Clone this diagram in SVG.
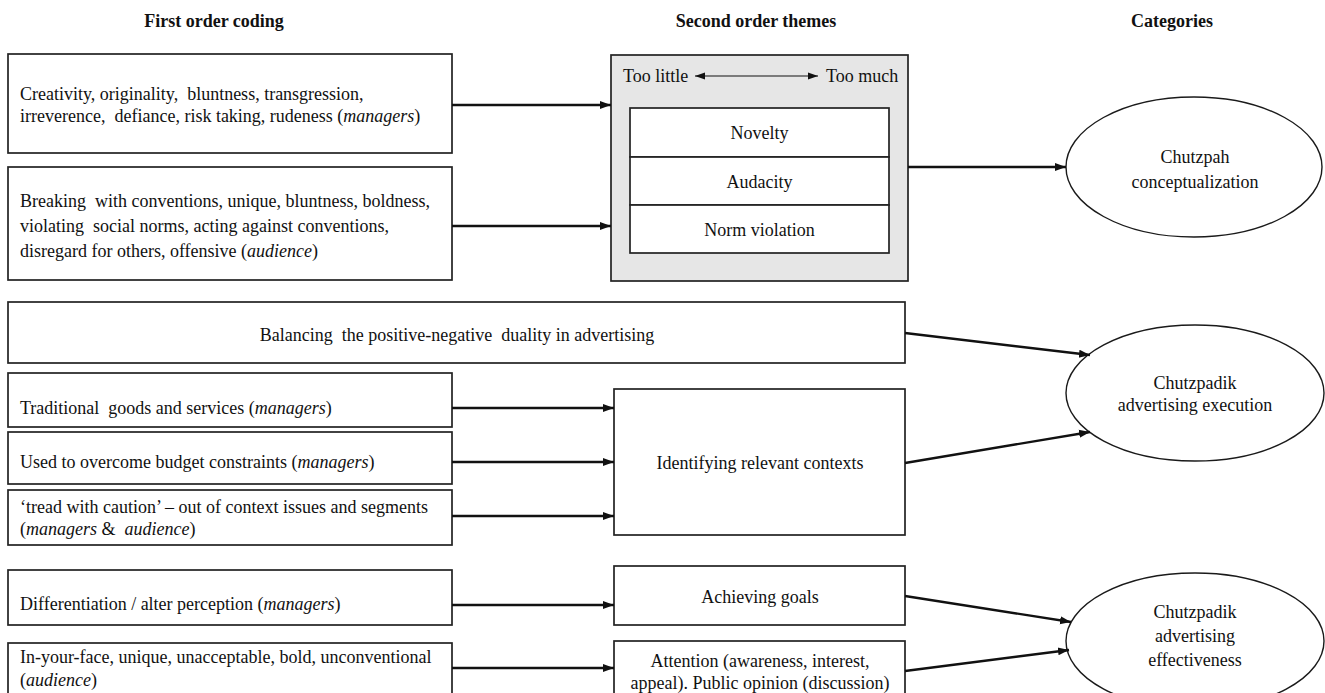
<svg xmlns="http://www.w3.org/2000/svg" width="1325" height="693" viewBox="0 0 1325 693">
<style>
text{font-family:"Liberation Serif","Times New Roman",serif;font-size:18px;fill:#111}
.h{font-weight:bold;text-anchor:middle}
.c{text-anchor:middle}
.box{fill:#fff;stroke:#222;stroke-width:1.7}
.gray{fill:#e6e6e6;stroke:#222;stroke-width:1.7}
.ell{fill:#fff;stroke:#1a1a1a;stroke-width:1.4}
.arr{stroke:#111;stroke-width:2.4;fill:none;marker-end:url(#ah)}
.thin{stroke:#111;stroke-width:1.2;fill:none;marker-start:url(#sh);marker-end:url(#sh2)}
</style>
<defs>
<marker id="ah" markerUnits="userSpaceOnUse" markerWidth="12" markerHeight="10" refX="11" refY="5" orient="auto"><path d="M0,1 L11,5 L0,9 Z" fill="#111"/></marker>
<marker id="sh" markerUnits="userSpaceOnUse" markerWidth="10" markerHeight="8" refX="0" refY="4" orient="auto"><path d="M0,4 L10,0.5 L10,7.5 Z" fill="#111"/></marker>
<marker id="sh2" markerUnits="userSpaceOnUse" markerWidth="10" markerHeight="8" refX="10" refY="4" orient="auto"><path d="M0,0.5 L10,4 L0,7.5 Z" fill="#111"/></marker>
</defs>
<rect width="1325" height="693" fill="#fff"/>
<g id="headers">
<text class="h" x="214" y="27">First order coding</text>
<text class="h" x="756" y="27">Second order themes</text>
<text class="h" x="1172" y="27">Categories</text>
</g>
<g id="n-creativity">
<rect class="box" x="8" y="54" width="444" height="99"/>
<text x="20" y="100" xml:space="preserve">Creativity, originality,  bluntness, transgression,</text>
<text x="20" y="122" xml:space="preserve">irreverence,  defiance, risk taking, rudeness (<tspan font-style="italic">managers</tspan>)</text>
</g>
<g id="n-breaking">
<rect class="box" x="8" y="167" width="444" height="113"/>
<text x="20" y="207" xml:space="preserve">Breaking  with conventions, unique, bluntness, boldness,</text>
<text x="20" y="232" xml:space="preserve">violating  social norms, acting against conventions,</text>
<text x="20" y="257">disregard for others, offensive (<tspan font-style="italic">audience</tspan>)</text>
</g>
<g id="n-themes">
<rect class="gray" x="611" y="55" width="297" height="226"/>
<text x="623" y="82">Too little</text>
<text x="826" y="82">Too much</text>
<line class="thin" x1="695" y1="76" x2="818" y2="76"/>
<rect class="box" x="630" y="108" width="259" height="49"/>
<rect class="box" x="630" y="157" width="259" height="48"/>
<rect class="box" x="630" y="205" width="259" height="48"/>
<text class="c" x="759.5" y="139">Novelty</text>
<text class="c" x="759.5" y="188">Audacity</text>
<text class="c" x="759.5" y="236">Norm violation</text>
</g>
<g id="n-conceptualization">
<ellipse class="ell" cx="1194" cy="167" rx="128" ry="70"/>
<text class="c" x="1195" y="163">Chutzpah</text>
<text class="c" x="1195" y="188">conceptualization</text>
</g>
<g id="n-balancing">
<rect class="box" x="8" y="302" width="897" height="61"/>
<text class="c" x="457" y="341" xml:space="preserve">Balancing  the positive-negative  duality in advertising</text>
</g>
<g id="n-traditional">
<rect class="box" x="8" y="373" width="444" height="54"/>
<text x="20" y="414" xml:space="preserve">Traditional  goods and services (<tspan font-style="italic">managers</tspan>)</text>
</g>
<g id="n-budget">
<rect class="box" x="8" y="432" width="444" height="52"/>
<text x="20" y="468">Used to overcome budget constraints (<tspan font-style="italic">managers</tspan>)</text>
</g>
<g id="n-caution">
<rect class="box" x="8" y="490" width="444" height="55"/>
<text x="20" y="513">‘tread with caution’ – out of context issues and segments</text>
<text x="20" y="535" xml:space="preserve">(<tspan font-style="italic">managers</tspan> &amp;  <tspan font-style="italic">audience</tspan>)</text>
</g>
<g id="n-contexts">
<rect class="box" x="614" y="389" width="291" height="146"/>
<text class="c" x="760" y="469">Identifying relevant contexts</text>
</g>
<g id="n-execution">
<ellipse class="ell" cx="1195" cy="393" rx="129" ry="68"/>
<text class="c" x="1195" y="389">Chutzpadik</text>
<text class="c" x="1195" y="411">advertising execution</text>
</g>
<g id="n-differentiation">
<rect class="box" x="8" y="570" width="444" height="55"/>
<text x="20" y="610">Differentiation / alter perception (<tspan font-style="italic">managers</tspan>)</text>
</g>
<g id="n-inyourface">
<rect class="box" x="8" y="643" width="444" height="60"/>
<text x="20" y="663">In-your-face, unique, unacceptable, bold, unconventional</text>
<text x="20" y="686">(<tspan font-style="italic">audience</tspan>)</text>
</g>
<g id="n-goals">
<rect class="box" x="614" y="566" width="291" height="59"/>
<text class="c" x="760" y="603">Achieving goals</text>
</g>
<g id="n-attention">
<rect class="box" x="614" y="641" width="291" height="62"/>
<text class="c" x="760" y="667">Attention (awareness, interest,</text>
<text class="c" x="760" y="689">appeal). Public opinion (discussion)</text>
</g>
<g id="n-effectiveness">
<ellipse class="ell" cx="1195" cy="641" rx="129" ry="68"/>
<text class="c" x="1195" y="618">Chutzpadik</text>
<text class="c" x="1195" y="642">advertising</text>
<text class="c" x="1195" y="666">effectiveness</text>
</g>
<g id="connectors">
<line class="arr" x1="452" y1="105" x2="611" y2="105"/>
<line class="arr" x1="452" y1="226" x2="611" y2="226"/>
<line class="arr" x1="908" y1="167" x2="1066" y2="167"/>
<line class="arr" x1="905" y1="333" x2="1090" y2="355"/>
<line class="arr" x1="452" y1="408" x2="614" y2="408"/>
<line class="arr" x1="452" y1="462" x2="614" y2="462"/>
<line class="arr" x1="452" y1="516" x2="614" y2="516"/>
<line class="arr" x1="905" y1="463" x2="1090" y2="432"/>
<line class="arr" x1="452" y1="605" x2="614" y2="605"/>
<line class="arr" x1="452" y1="668" x2="614" y2="668"/>
<line class="arr" x1="905" y1="596" x2="1071" y2="622"/>
<line class="arr" x1="905" y1="671" x2="1069" y2="650"/>
</g>
</svg>
